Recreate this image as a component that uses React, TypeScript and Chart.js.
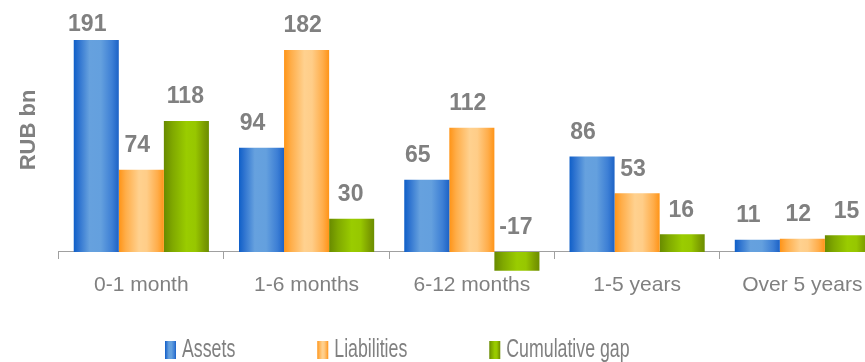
import React, { useEffect, useRef } from "react";
import { Chart, registerables } from "chart.js";

Chart.register(...registerables);

// ---- data ----
const categories = ["0-1 month", "1-6 months", "6-12 months", "1-5 years", "Over 5 years"];
const seriesNames = ["Assets", "Liabilities", "Cumulative gap"];
const assets = [191, 94, 65, 86, 11];
const liabilities = [74, 182, 112, 53, 12];
const cumulativeGap = [118, 30, -17, 16, 15];
const yAxisTitle = "RUB bn";
const yMin = -20;
const yMax = 200;

// ---- styles ----
const TEXT_GRAY = "#808080";
const AXIS_GRAY = "#a0a0a0";
const FONT = "'Liberation Sans', Arial, Helvetica, sans-serif";
const CAT_PCT = 0.818;
const LABEL_X_SHIFT = [-9, -4, -1];

const GRADIENT_STOPS: [number, string][][] = [
  [
    [0, "#0f5fc8"],
    [0.12, "#2f74d0"],
    [0.35, "#66a1de"],
    [0.6, "#64a0de"],
    [0.85, "#3d7fd5"],
    [1, "#1c62c6"],
  ],
  [
    [0, "#ff9417"],
    [0.15, "#ffad48"],
    [0.45, "#ffd18f"],
    [0.62, "#ffcd88"],
    [0.86, "#ffad4a"],
    [1, "#ff9417"],
  ],
  [
    [0, "#688a00"],
    [0.2, "#80a900"],
    [0.5, "#9acc00"],
    [0.7, "#97c700"],
    [0.9, "#7b9c00"],
    [1, "#6c8e00"],
  ],
];

function makeGradient(ctx: CanvasRenderingContext2D, left: number, width: number, stops: [number, string][]) {
  const g = ctx.createLinearGradient(left, 0, left + width, 0);
  stops.forEach(([o, c]) => g.addColorStop(o, c));
  return g;
}

function barFill(datasetIndex: number) {
  return (c: any) => {
    const chart = c.chart;
    const xs = chart.scales && chart.scales.x;
    const stops = GRADIENT_STOPS[datasetIndex];
    if (!xs || c.dataIndex === undefined || !chart.chartArea) return stops[2][1];
    const n = chart.data.labels.length;
    const catW = (xs.right - xs.left) / n;
    const full = catW * CAT_PCT;
    const size = full / chart.data.datasets.length;
    const center = xs.getPixelForValue(c.dataIndex);
    const left = center - full / 2 + size * datasetIndex;
    return makeGradient(chart.ctx, left, size, stops);
  };
}

const overlayPlugin = {
  id: "overlay",
  afterDatasetsDraw(chart: any) {
    const ctx: CanvasRenderingContext2D = chart.ctx;
    ctx.save();
    ctx.fillStyle = TEXT_GRAY;
    ctx.font = `bold 23px ${FONT}`;
    ctx.textAlign = "center";
    ctx.textBaseline = "middle";
    chart.data.datasets.forEach((ds: any, di: number) => {
      const meta = chart.getDatasetMeta(di);
      meta.data.forEach((el: any, i: number) => {
        const top = Math.min(el.y, el.base);
        const cy = Math.max(top - 24, 25);
        ctx.fillText(String(ds.data[i]), el.x + LABEL_X_SHIFT[di], cy);
      });
    });
    ctx.restore();
  },
  afterDraw(chart: any) {
    const ctx: CanvasRenderingContext2D = chart.ctx;
    // y-axis title
    ctx.save();
    ctx.fillStyle = TEXT_GRAY;
    ctx.font = `bold 22px ${FONT}`;
    ctx.textAlign = "center";
    ctx.textBaseline = "middle";
    ctx.translate(28.5, 130);
    ctx.rotate(-Math.PI / 2);
    ctx.fillText(yAxisTitle, 0, 0);
    ctx.restore();

    // legend
    ctx.save();
    ctx.font = `25px ${FONT}`;
    ctx.textBaseline = "middle";
    ctx.textAlign = "left";
    const squeeze = 0.71;
    const cy = 350;
    let x = 165;
    chart.data.datasets.forEach((ds: any, di: number) => {
      const bw = 11;
      const bh = 18;
      ctx.fillStyle = makeGradient(ctx, x, bw, GRADIENT_STOPS[di]);
      ctx.fillRect(x, cy - bh / 2, bw, bh);
      const tx = x + bw + 6;
      const w = ctx.measureText(ds.label).width * squeeze;
      ctx.save();
      ctx.translate(tx, cy);
      ctx.scale(squeeze, 1);
      ctx.fillStyle = TEXT_GRAY;
      ctx.fillText(ds.label, 0, 0);
      ctx.restore();
      x = tx + w + 82;
    });
    ctx.restore();
  },
};

export default function App() {
  const canvasRef = useRef<HTMLCanvasElement | null>(null);

  useEffect(() => {
    const canvas = canvasRef.current;
    if (!canvas) return;
    const seriesValues = [assets, liabilities, cumulativeGap];
    const chart = new Chart(canvas, {
      type: "bar",
      data: {
        labels: categories,
        datasets: seriesNames.map((name, i) => ({
          label: name,
          data: seriesValues[i],
          backgroundColor: barFill(i),
          borderWidth: 0,
        })),
      },
      options: {
        responsive: false,
        animation: false,
        devicePixelRatio: 1,
        layout: { padding: { left: 58.7, right: 0, top: 30, bottom: 87.8 } },
        datasets: { bar: { categoryPercentage: CAT_PCT, barPercentage: 1 } },
        plugins: {
          legend: { display: false },
          tooltip: { enabled: false },
          title: { display: false },
        },
        scales: {
          x: {
            position: { y: 0 },
            offset: true,
            z: 1,
            grid: {
              display: true,
              drawOnChartArea: false,
              drawTicks: true,
              tickLength: 7,
              color: AXIS_GRAY,
              offset: true,
            },
            border: { display: true, color: AXIS_GRAY, width: 1 },
            ticks: {
              color: TEXT_GRAY,
              font: { family: FONT, size: 21 },
              padding: 14,
              maxRotation: 0,
              autoSkip: false,
            },
          },
          y: { display: false, min: yMin, max: yMax },
        },
      } as any,
      plugins: [overlayPlugin],
    });
    return () => chart.destroy();
  }, []);

  return (
    <div
      style={{
        position: "fixed",
        left: 0,
        top: 0,
        width: 865,
        height: 362,
        overflow: "hidden",
        background: "#ffffff",
      }}
    >
      <canvas ref={canvasRef} width={885} height={362} style={{ display: "block" }} />
    </div>
  );
}
